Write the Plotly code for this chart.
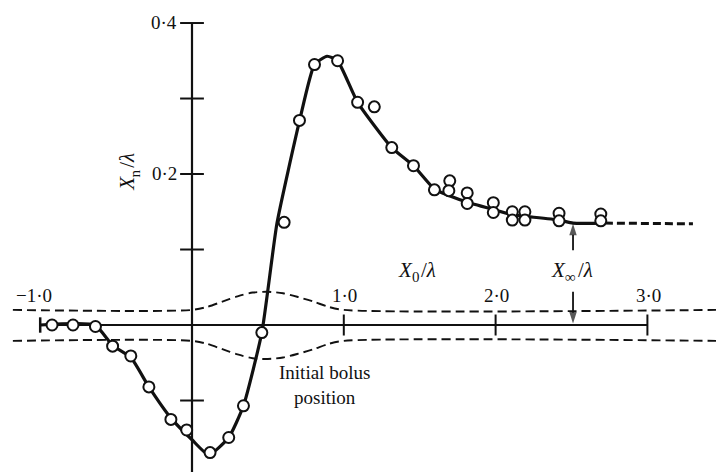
import plotly.graph_objects as go

# Measured displacement X_n/lambda against starting position X_0/lambda
pts_x = [-0.922, -0.784, -0.636, -0.523, -0.403, -0.284, -0.139, -0.035, 0.119, 0.242,
         0.339, 0.460, 0.607, 0.708, 0.807, 0.959, 1.091, 1.201, 1.316, 1.459,
         1.597, 1.698, 1.692, 1.813, 1.813, 1.985, 1.985, 2.110, 2.110, 2.193,
         2.193, 2.418, 2.418, 2.693, 2.693]
pts_y = [0.000, 0.000, -0.002, -0.028, -0.041, -0.082, -0.125, -0.139, -0.169, -0.149,
         -0.107, -0.010, 0.136, 0.271, 0.345, 0.350, 0.295, 0.289, 0.235, 0.211,
         0.179, 0.191, 0.178, 0.175, 0.161, 0.162, 0.149, 0.150, 0.139, 0.150,
         0.139, 0.148, 0.138, 0.147, 0.138]

# Faired curve through the data
curve_x = [-1.0, -0.64, -0.523, -0.403, -0.284, -0.14, 0.0, 0.11, 0.242, 0.339,
           0.46, 0.56, 0.708, 0.807, 0.89, 0.959, 1.091, 1.316, 1.459, 1.597,
           1.70, 1.81, 1.985, 2.11, 2.19, 2.418, 2.51, 2.72]
curve_y = [0.0, 0.0, -0.027, -0.043, -0.082, -0.123, -0.152, -0.172, -0.149, -0.107,
           -0.010, 0.135, 0.270, 0.345, 0.356, 0.350, 0.295, 0.235, 0.211, 0.180,
           0.171, 0.163, 0.153, 0.146, 0.144, 0.139, 0.135, 0.135]

# Asymptotic extension of the curve
tail_x = [2.72, 3.30]
tail_y = [0.135, 0.134]

# Outline of the bolus (dashed)
bolus_x = [-1.18, 0.0, 0.1, 0.2, 0.3, 0.4, 0.5, 0.6, 0.7, 0.8, 0.9, 1.0, 3.46]
bolus_upper = [0.020, 0.020, 0.024, 0.031, 0.038, 0.043, 0.044, 0.042, 0.037, 0.031, 0.024, 0.020, 0.020]
bolus_lower = [-0.021, -0.021, -0.025, -0.032, -0.039, -0.044, -0.045, -0.043, -0.038, -0.032, -0.025, -0.021, -0.021]

# Axes
x_axis_ends = [-1.0, 3.0]
y_axis_ends = [-0.3, 0.4]
x_ticks = [1.0, 2.0, 3.0]
x_label_vals = [-1.0, 1.0, 2.0, 3.0]
x_tick_labels = ['\u22121\u00b70', '1\u00b70', '2\u00b70', '3\u00b70']
y_ticks = [0.4, 0.3, 0.2, 0.1, -0.1]
y_label_vals = [0.4, 0.2]
y_tick_labels = ['0\u00b74', '0\u00b72']

# Asymptote marker: position, level of the curve, and arrow tails
x_inf = 2.51
x_inf_level = 0.134
arrow_up_y = [0.099, x_inf_level]
arrow_down_y = [0.044, 0.002]

FONT = 'Liberation Serif'
INK = '#111111'
MAIN = 21   # symbol font size
SUB = 15    # subscript font size

fig = go.Figure()

# bolus outline
for yy in (bolus_upper, bolus_lower):
    fig.add_trace(go.Scatter(x=bolus_x, y=yy, mode='lines',
                             line=dict(color=INK, width=1.9, dash='9px,5px', shape='spline', smoothing=0.8),
                             hoverinfo='skip'))

# axis lines
fig.add_trace(go.Scatter(x=x_axis_ends, y=[0, 0], mode='lines',
                         line=dict(color=INK, width=2), hoverinfo='skip'))
fig.add_trace(go.Scatter(x=[0, 0], y=y_axis_ends, mode='lines',
                         line=dict(color=INK, width=2.2), hoverinfo='skip'))
# tick marks crossing the axes
fig.add_trace(go.Scatter(x=x_ticks, y=[0] * len(x_ticks), mode='markers',
                         marker=dict(symbol='line-ns-open', size=15, color=INK,
                                     line=dict(color=INK, width=2)),
                         hoverinfo='skip'))
fig.add_trace(go.Scatter(x=[x_axis_ends[0]], y=[0], mode='markers',
                         marker=dict(symbol='line-ns-open', size=11, color=INK,
                                     line=dict(color=INK, width=2.5)),
                         hoverinfo='skip'))
fig.add_trace(go.Scatter(x=[0] * len(y_ticks), y=y_ticks, mode='markers',
                         marker=dict(symbol='line-ew-open', size=17, color=INK,
                                     line=dict(color=INK, width=2)),
                         hoverinfo='skip'))

# faired curve and its dashed continuation
fig.add_trace(go.Scatter(x=curve_x, y=curve_y, mode='lines',
                         line=dict(color=INK, width=3.2, shape='spline', smoothing=0.5),
                         hoverinfo='skip'))
fig.add_trace(go.Scatter(x=tail_x, y=tail_y, mode='lines',
                         line=dict(color=INK, width=3, dash='8px,4px'), hoverinfo='skip'))

# arrows marking the asymptote X_inf
for ay in (arrow_up_y, arrow_down_y):
    fig.add_trace(go.Scatter(x=[x_inf, x_inf], y=ay, mode='lines+markers',
                             line=dict(color=INK, width=1.8),
                             marker=dict(symbol='arrow', size=[0, 12], color=INK,
                                         angleref='previous', line=dict(width=0)),
                             hoverinfo='skip'))

# experimental points
fig.add_trace(go.Scatter(x=pts_x, y=pts_y, mode='markers',
                         marker=dict(symbol='circle', size=11, color='white',
                                     line=dict(color=INK, width=2)),
                         hoverinfo='skip'))

annotations = []
for v, t in zip(x_label_vals, x_tick_labels):
    annotations.append(dict(x=v, y=0, text=t, showarrow=False, yanchor='middle',
                            xanchor='right' if v < 0 else 'center',
                            xshift=14 if v < 0 else 1, yshift=30,
                            font=dict(family=FONT, size=19, color=INK)))
for v, t in zip(y_label_vals, y_tick_labels):
    annotations.append(dict(x=0, y=v, text=t, showarrow=False, xanchor='right',
                            xshift=-13, yshift=1,
                            font=dict(family=FONT, size=19, color=INK)))


def symbol_label(x, y, sub, sub_w, vertical=False):
    """Italic X with a lowered subscript, followed by /lambda, as three text pieces."""
    w_x, w_rest = 0.62 * MAIN, 0.86 * MAIN
    total = w_x + sub_w + w_rest
    c_x = -total / 2 + w_x / 2
    c_s = -total / 2 + w_x + sub_w / 2
    c_r = total / 2 - w_rest / 2
    pieces = [('<i>X</i>', MAIN, c_x, 0), (sub, SUB, c_s, -7), ('/<i>\u03bb</i>', MAIN, c_r, 0)]
    out = []
    for txt, size, along, drop in pieces:
        if vertical:
            xs, ys, ang = -drop, along, -90
        else:
            xs, ys, ang = along, drop, 0
        out.append(dict(x=x, y=y, text=txt, showarrow=False, xanchor='center', yanchor='middle',
                        xshift=xs, yshift=ys, textangle=ang,
                        font=dict(family=FONT, size=size, color=INK)))
    return out


annotations += symbol_label(1.489, 0.0728, '0', 0.5 * SUB)
annotations += symbol_label(x_inf, 0.0728, '\u221e', 0.75 * SUB)
annotations += symbol_label(-0.428, 0.204, 'n', 0.5 * SUB, vertical=True)
annotations.append(dict(x=0.876, y=-0.08, text='Initial bolus<br>position', showarrow=False,
                        font=dict(family=FONT, size=19, color=INK)))

fig.update_layout(
    width=716, height=472,
    margin=dict(l=0, r=0, t=0, b=0),
    paper_bgcolor='white', plot_bgcolor='white',
    showlegend=False,
    xaxis=dict(range=[-1.2648, 3.4519], visible=False, fixedrange=True),
    yaxis=dict(range=[-0.1947, 0.4305], visible=False, fixedrange=True),
    annotations=annotations,
)

fig.write_html('out.html')
